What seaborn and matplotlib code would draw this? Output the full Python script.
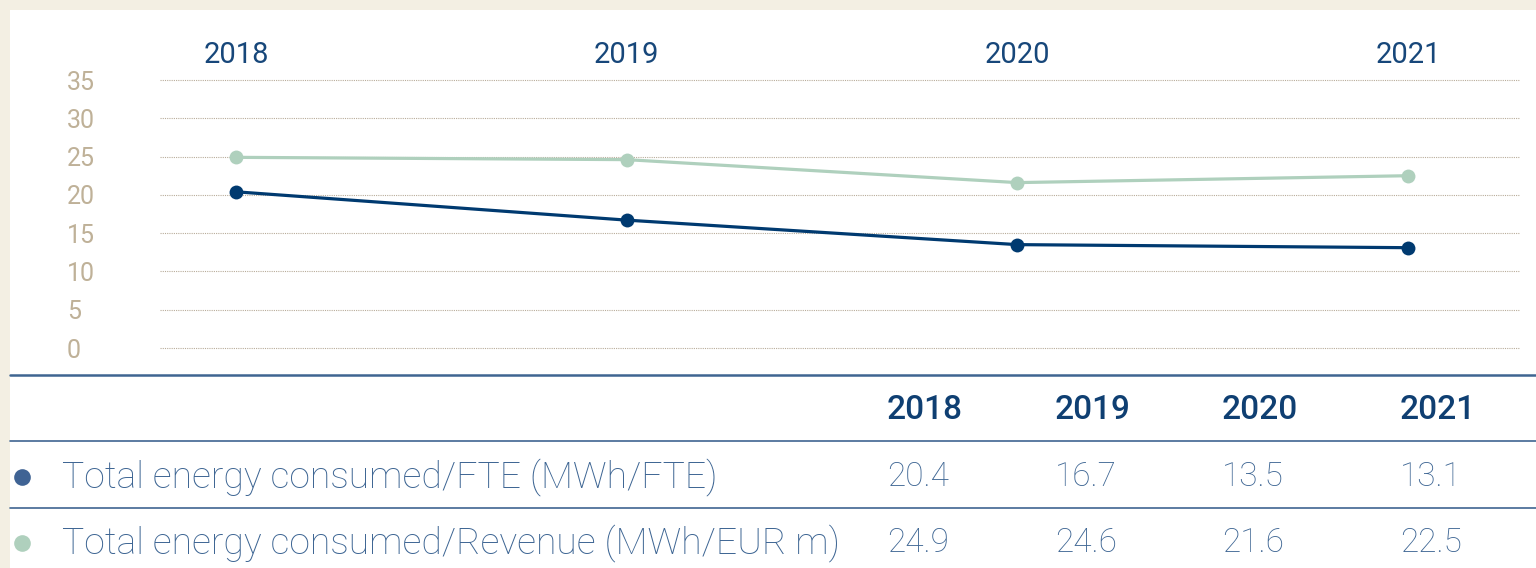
import numpy as np
import pandas as pd
import seaborn as sns
import matplotlib.pyplot as plt
from matplotlib.lines import Line2D
from matplotlib.patches import Rectangle

# Data
years = ['2018', '2019', '2020', '2021']
fte = [20.4, 16.7, 13.5, 13.1]
revenue = [24.9, 24.6, 21.6, 22.5]
series_names = ['Total energy consumed/FTE (MWh/FTE)',
                'Total energy consumed/Revenue (MWh/EUR m)']
yticks = [0, 5, 10, 15, 20, 25, 30, 35]

navy = '#003a70'
green = '#afd0bd'
beige = '#bfb198'
rule = '#3f6591'
text_blue = '#3d6593'

df = pd.DataFrame({
    'x': list(range(len(years))) * 2,
    'value': fte + revenue,
    'series': [series_names[0]] * len(years) + [series_names[1]] * len(years),
})

sns.set_style('white')
plt.rcParams['font.family'] = ['Roboto', 'DejaVu Sans']

fig = plt.figure(figsize=(15.36, 5.68), dpi=100)
fig.patch.set_facecolor('#f3efe3')
fig.patches.append(Rectangle((10 / 1536, 0), 1, 1 - 10 / 568, transform=fig.transFigure,
                             facecolor='white', edgecolor='none', zorder=-1))

# Line chart
ax = fig.add_axes([160 / 1536, 1 - 348 / 568, 1360 / 1536, 268 / 568])
ax.patch.set_alpha(0)
sns.lineplot(data=df, x='x', y='value', hue='series', palette=[navy, green],
             marker='o', markersize=10, markeredgewidth=0, linewidth=2.3,
             legend=False, ax=ax, zorder=3)

ax.set_ylim(0, 35)
ax.set_xlim(-0.1945, 3.287)
ax.set_yticks(yticks)
ax.set_yticklabels([str(t) for t in yticks], ha='left')
ax.tick_params(axis='y', length=0, pad=67, labelsize=18, labelcolor=beige)
ax.xaxis.tick_top()
ax.set_xticks(range(len(years)))
ax.set_xticklabels(years)
ax.tick_params(axis='x', length=0, pad=8, labelsize=21, labelcolor='#17477a')
ax.set_xlabel('')
ax.set_ylabel('')
ax.grid(axis='y', linestyle=(0, (1, 1)), color='#b8ac9a', linewidth=0.8)
ax.grid(axis='x', visible=False)
for gl in ax.get_ygridlines():
    gl.set_clip_on(False)
sns.despine(ax=ax, left=True, bottom=True, top=True, right=True)

# Table below
col_x = [887 / 1536, 1055 / 1536, 1222 / 1536, 1400 / 1536]
rule_y = [1 - 375 / 568, 1 - 441 / 568, 1 - 508 / 568]
fig.lines.append(Line2D([10 / 1536, 1], [rule_y[0]] * 2, transform=fig.transFigure,
                        color=rule, linewidth=1.8))
for yy in rule_y[1:]:
    fig.lines.append(Line2D([10 / 1536, 1], [yy] * 2, transform=fig.transFigure,
                            color=rule, linewidth=1.2))

header_y = 1 - 410 / 568
for cx, yr in zip(col_x, years):
    fig.text(cx, header_y, yr, ha='left', va='center', fontsize=24,
             fontweight='medium', color='#0f3f72')

row_y = [1 - 477 / 568, 1 - 543 / 568]
dot_colors = ['#3f6394', green]
for ry, name, vals, dc in zip(row_y, series_names, [fte, revenue], dot_colors):
    fig.text(62 / 1536, ry, name, ha='left', va='center', fontsize=26.8,
             fontweight='light', color=text_blue)
    fig.lines.append(Line2D([22 / 1536], [ry], transform=fig.transFigure, marker='o',
                            markersize=12, color=dc, markeredgewidth=0))
    for cx, v in zip(col_x, vals):
        fig.text(cx, ry, f'{v:.1f}', ha='left', va='center', fontsize=24,
                 fontweight='light', color=text_blue)

fig.savefig('out.png', dpi=100, facecolor=fig.get_facecolor())
